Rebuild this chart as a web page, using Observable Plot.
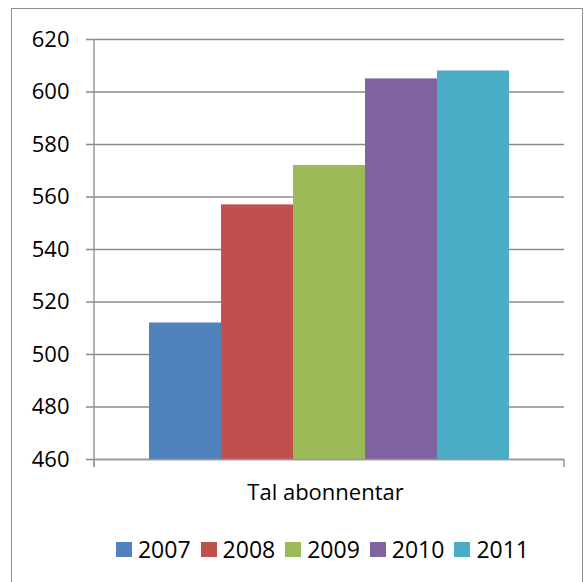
<!DOCTYPE html>
<html>
<head>
<meta charset="utf-8">
<script src="https://cdn.jsdelivr.net/npm/d3@7"></script>
<script src="https://cdn.jsdelivr.net/npm/@observablehq/plot@0.6"></script>
<style>
  html, body { margin: 0; padding: 0; background: #fff; }
  body { width: 585px; height: 582px; overflow: hidden; position: relative; font-family: "Open Sans", sans-serif; }
  #frame { position: absolute; left: 11px; top: 8px; width: 572px; height: 620px; border: 1.5px solid #8e8e8e; box-sizing: border-box; }
  #chart { position: absolute; left: 0; top: 0; }
  #legend { position: absolute; left: 0; width: 585px; top: 533px; display: flex; justify-content: center; padding-left: 70px; box-sizing: border-box; font-size: 23px; color: #000; }
  .item { display: flex; align-items: center; margin-right: 10px; }
  .sw { width: 16px; height: 15px; margin-right: 6px; }
</style>
</head>
<body>
<div id="frame"></div>
<div id="chart"></div>
<div id="legend"></div>
<script>
const category = "Tal abonnentar";
const years = ["2007", "2008", "2009", "2010", "2011"];
const values = [512, 557, 572, 605, 608];
const colors = ["#4F81BD", "#C0504D", "#9BBB59", "#8064A2", "#4BACC6"];
const yTicks = [460, 480, 500, 520, 540, 560, 580, 600, 620];

const data = years.map((y, i) => ({category, year: y, value: values[i]}));
const yMin = yTicks[0];

const edgeTicks = Plot.marks([
  (index, scales, values, dim) => {
    const g = d3.create("svg:g").attr("stroke", "#999").attr("stroke-width", 1.5);
    const b = dim.height - dim.marginBottom;
    [dim.marginLeft, dim.width - dim.marginRight].forEach(x => {
      if (x === dim.marginLeft) {
        g.append("line").attr("x1", x).attr("x2", x).attr("y1", dim.marginTop).attr("y2", b + 8);
      }
      g.append("line").attr("x1", x).attr("x2", x).attr("y1", b).attr("y2", b + 8);
    });
    return g.node();
  }
]);

const chart = Plot.plot({
  width: 585,
  height: 510,
  marginLeft: 94,
  marginRight: 21,
  marginTop: 39,
  marginBottom: 51,
  style: {fontFamily: "Open Sans, sans-serif", fontSize: "22px", color: "#000", background: "transparent"},
  fx: {domain: [category], padding: 0, label: null, axis: null},
  x: {domain: years, paddingInner: 0, paddingOuter: 0.75, axis: null},
  y: {domain: [yTicks[0], yTicks[yTicks.length - 1]], label: null},
  color: {domain: years, range: colors},
  marks: [
    Plot.gridY(yTicks, {stroke: "#8a8a8a", strokeOpacity: 1, strokeWidth: 1.5}),
    Plot.barY(data, {fx: "category", x: "year", y1: yMin, y2: "value", fill: "year"}),
    Plot.ruleY([yMin], {stroke: "#999", strokeWidth: 1.5}),
    Plot.axisY(yTicks, {tickSize: 8, tickPadding: 17, stroke: "#8a8a8a", strokeWidth: 1.5, fontSize: 22, fill: "#000"}),
    Plot.axisFx({anchor: "bottom", tickSize: 0, tickPadding: 25, fontSize: 22, fill: "#000", label: null, dx: -4}),
    edgeTicks
  ]
});
document.getElementById("chart").appendChild(chart);

const legend = document.getElementById("legend");
years.forEach((y, i) => {
  const it = document.createElement("div");
  it.className = "item";
  const sw = document.createElement("div");
  sw.className = "sw";
  sw.style.background = colors[i];
  const t = document.createElement("span");
  t.textContent = y;
  it.appendChild(sw);
  it.appendChild(t);
  legend.appendChild(it);
});
</script>
</body>
</html>
